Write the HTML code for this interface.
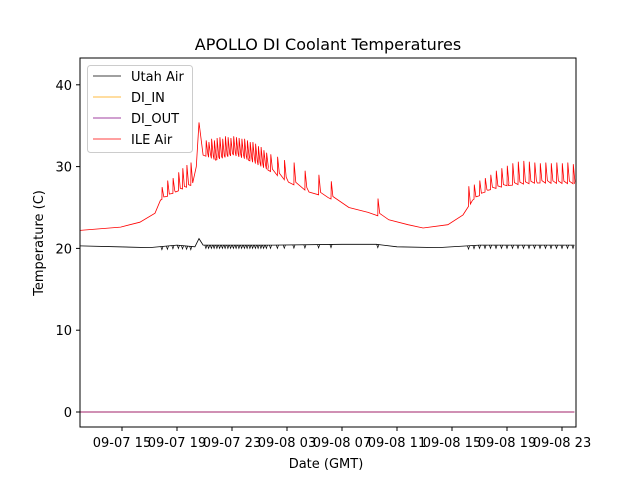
<!DOCTYPE html>
<html><head><meta charset="utf-8"><style>
body{margin:0;background:#fff;}
svg text{font-family:"DejaVu Sans","Liberation Sans",sans-serif;}
</style></head><body>
<svg width="640" height="480" xmlns="http://www.w3.org/2000/svg">
<rect width="640" height="480" fill="#fff"/>
<text x="328" y="50" font-size="16" text-anchor="middle">APOLLO DI Coolant Temperatures</text>
<g id="plot"></g>
<g id="axes"></g>
<text x="326" y="468" font-size="13" text-anchor="middle">Date (GMT)</text>
<text transform="translate(43,243) rotate(-90)" font-size="13" text-anchor="middle">Temperature (C)</text>
<g>
<rect x="87.5" y="65.5" width="105" height="87" rx="3" fill="#fff" fill-opacity="0.85" stroke="#ccc"/>
<g><line x1="93" y1="76" x2="121" y2="76" stroke="#000" stroke-width="0.8"/><text x="131" y="81" font-size="13">Utah Air</text></g>
<g><line x1="93" y1="97" x2="121" y2="97" stroke="#ffa500" stroke-width="0.8"/><text x="131" y="102" font-size="13">DI_IN</text></g>
<g><line x1="93" y1="118" x2="121" y2="118" stroke="#800080" stroke-width="0.8"/><text x="131" y="123" font-size="13">DI_OUT</text></g>
<g><line x1="93" y1="139" x2="121" y2="139" stroke="#ff0000" stroke-width="0.8"/><text x="131" y="144" font-size="13">ILE Air</text></g>
</g>
</svg>
<script>
// hours since 09-07 00:00
const xTicks=[15,19,23,27,31,35,39,43,47];
const xTickLabels=["09-07 15","09-07 19","09-07 23","09-08 03","09-08 07","09-08 11","09-08 15","09-08 19","09-08 23"];
const yTicks=[0,10,20,30,40];
const ileBaseT=[11.95,14.9,16.3,17.4,17.8,18.9,20.0,20.4,20.6,20.9,21.8,23.1,24.2,25.6,27.1,28.6,30.0,31.5,32.9,34.4,35.8,36.9,38.7,39.8,40.5,41.6,43.1,45.2,47.9];
const ileBaseV=[22.2,22.6,23.2,24.3,25.9,26.9,27.7,30.0,35.4,31.4,30.8,31.4,30.8,29.6,28.1,26.9,26.2,25.0,24.4,23.5,22.9,22.5,22.9,24.1,25.9,27.1,27.7,28.0,27.9];
const spikeT=[17.9,18.3,18.7,19.1,19.4,19.7,20.0,21.1,21.3,21.5,21.7,21.9,22.1,22.3,22.5,22.7,22.9,23.1,23.3,23.5,23.7,23.9,24.1,24.3,24.5,24.7,24.9,25.1,25.3,25.5,25.8,26.3,26.8,27.5,28.3,29.3,30.2,33.6,40.2,40.6,41.0,41.4,41.8,42.2,42.6,43.0,43.4,43.8,44.2,44.6,45.0,45.4,45.8,46.2,46.6,47.0,47.4,47.8];
const spikeV=[27.5,28.3,28.6,29.3,29.8,30.2,30.5,33.2,33.0,33.4,33.2,33.5,33.6,33.4,33.7,33.6,33.5,33.7,33.6,33.5,33.4,33.4,33.2,33.0,33.0,32.8,32.5,32.4,32.0,31.7,31.5,31.2,30.8,30.5,29.5,29.0,28.2,26.1,27.6,27.8,28.3,28.6,29.0,29.5,29.8,30.1,30.4,30.6,30.7,30.6,30.5,30.4,30.5,30.4,30.5,30.4,30.5,30.3];
const utahT=[11.95,17.0,19.0,20.3,20.6,20.9,26.0,31.0,33.5,35.0,38.0,41.0,47.9];
const utahV=[20.3,20.1,20.4,20.2,21.2,20.4,20.4,20.5,20.5,20.2,20.1,20.4,20.4];
const diT=[11.95,47.9];
const diInV=[0,0];
const diOutV=[0,0];

const X0=80,X1=576,Y0=58,Y1=427;
const x=h=>122+(h-15)*13.75;
const y=v=>412-v*8.18;
const NS="http://www.w3.org/2000/svg";
const plot=document.getElementById('plot'),axes=document.getElementById('axes');
function interp(ts,vs,t){for(let i=0;i<ts.length-1;i++){if(t>=ts[i]&&t<=ts[i+1])return vs[i]+(vs[i+1]-vs[i])*(t-ts[i])/(ts[i+1]-ts[i]);}return t<ts[0]?vs[0]:vs[vs.length-1];}
function line(pts,color,w,name){const p=document.createElementNS(NS,'polyline');
p.setAttribute('points',pts.map(q=>x(q[0]).toFixed(1)+','+y(q[1]).toFixed(1)).join(' '));
p.setAttribute('fill','none');p.setAttribute('stroke',color);p.setAttribute('stroke-width',w);


plot.appendChild(p);}
let pts=[];
const all=[...ileBaseT.map(t=>({t,s:false})),...spikeT.map((t,i)=>({t,s:true,i}))].sort((a,b)=>a.t-b.t);
all.forEach(e=>{if(!e.s){pts.push([e.t,interp(ileBaseT,ileBaseV,e.t)]);}else{
const b=interp(ileBaseT,ileBaseV,e.t);pts.push([e.t,b]);pts.push([e.t+0.02,spikeV[e.i]]);pts.push([e.t+0.14,b+0.3]);}});
line(pts,'#ff0000',0.8,'ile-air-line');
let up=[];utahT.forEach((t,i)=>up.push([t,utahV[i]]));
line(up,'#000',0.8,'utah-air-line');
spikeT.forEach((t,i)=>{if(t>17.5){const b=interp(utahT,utahV,t);line([[t-0.08,b],[t,b-0.4],[t+0.08,b]],'#000',0.7,'utah-air-dip');}});
line(diT.map((t,i)=>[t,diInV[i]]),'#ffa500',0.8,'di-in-line');
line(diT.map((t,i)=>[t,diOutV[i]]),'#a0206a',0.9,'di-out-line');
const fr=document.createElementNS(NS,'rect');fr.setAttribute('x',X0);fr.setAttribute('y',Y0);fr.setAttribute('width',X1-X0);fr.setAttribute('height',Y1-Y0);fr.setAttribute('fill','none');fr.setAttribute('stroke','#000');fr.setAttribute('stroke-width','1');


axes.appendChild(fr);
xTicks.forEach((t,i)=>{const l=document.createElementNS(NS,'line');l.setAttribute('x1',x(t));l.setAttribute('x2',x(t));l.setAttribute('y1',Y1);l.setAttribute('y2',Y1+4);l.setAttribute('stroke','#000');


axes.appendChild(l);
const tx=document.createElementNS(NS,'text');tx.setAttribute('x',x(t));tx.setAttribute('y',Y1+20);tx.setAttribute('font-size','13');tx.setAttribute('text-anchor','middle');tx.textContent=xTickLabels[i];


axes.appendChild(tx);});
yTicks.forEach(v=>{const l=document.createElementNS(NS,'line');l.setAttribute('x1',X0-4);l.setAttribute('x2',X0);l.setAttribute('y1',y(v));l.setAttribute('y2',y(v));l.setAttribute('stroke','#000');


axes.appendChild(l);
const tx=document.createElementNS(NS,'text');tx.setAttribute('x',X0-8);tx.setAttribute('y',y(v)+5);tx.setAttribute('font-size','13');tx.setAttribute('text-anchor','end');tx.textContent=v;


axes.appendChild(tx);});
</script>
</body></html>
